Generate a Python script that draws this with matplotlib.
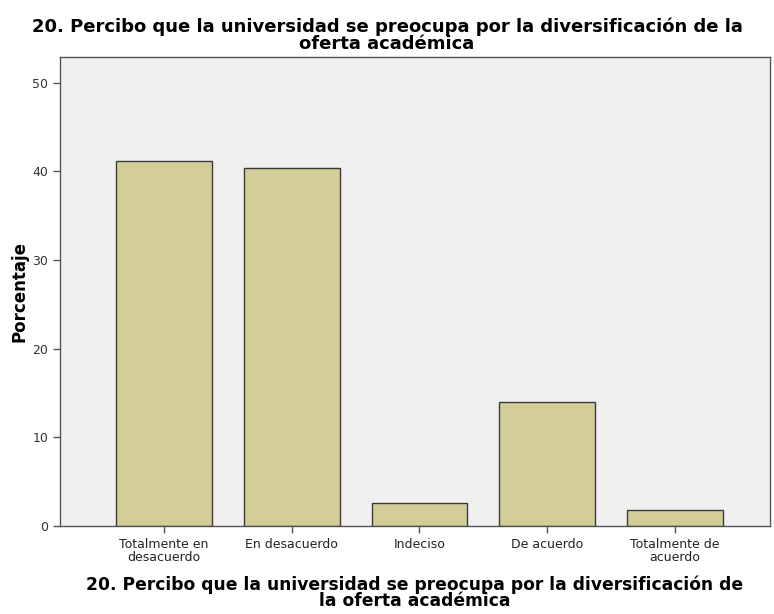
import matplotlib
matplotlib.use("Agg")
import matplotlib.pyplot as plt

categories = ["Totalmente en\ndesacuerdo", "En desacuerdo", "Indeciso", "De acuerdo", "Totalmente de\nacuerdo"]
percentages = [41.2, 40.4, 2.6, 14.0, 1.8]
yticks = [0, 10, 20, 30, 40, 50]
title = "20. Percibo que la universidad se preocupa por la diversificación de la\noferta académica"
xlabel = "20. Percibo que la universidad se preocupa por la diversificación de\nla oferta académica"
ylabel = "Porcentaje"

fam = "DejaVu Sans Condensed"
fig = plt.figure(figsize=(7.74, 6.14), dpi=100)
ax = fig.add_axes([60/774, 1-526/614, 710/774, 469/614])
ax.set_facecolor("#F0F0F0")
x = list(range(len(categories)))
ax.bar(x, percentages, width=0.75, color="#D3CE97", edgecolor="#3a3a3a", linewidth=1.0, zorder=2)
ax.set_xlim(-0.815, 4.745)
ax.set_ylim(0, 52.9)
ax.set_yticks(yticks)
ax.set_yticklabels([str(v) for v in yticks], fontsize=9, family=fam, color="#333333")
ax.set_xticks(x)
ax.set_xticklabels(categories, fontsize=9, family=fam, color="#222222", linespacing=0.95)
for s in ax.spines.values():
    s.set_color("#555555")
    s.set_linewidth(1.0)
ax.tick_params(axis="both", color="#555555", length=5, width=1)
ax.tick_params(axis="x", pad=4)
ax.set_ylabel(ylabel, fontsize=12, fontweight="bold", family=fam, labelpad=3)
ax.set_xlabel(xlabel, fontsize=12.3, fontweight="bold", family=fam, linespacing=0.9, labelpad=8)
fig.text(0.5, 1-35/614, title, ha="center", va="center", fontsize=13, fontweight="bold", family=fam, linespacing=0.95)
fig.savefig("out.png", dpi=100, facecolor="white")
